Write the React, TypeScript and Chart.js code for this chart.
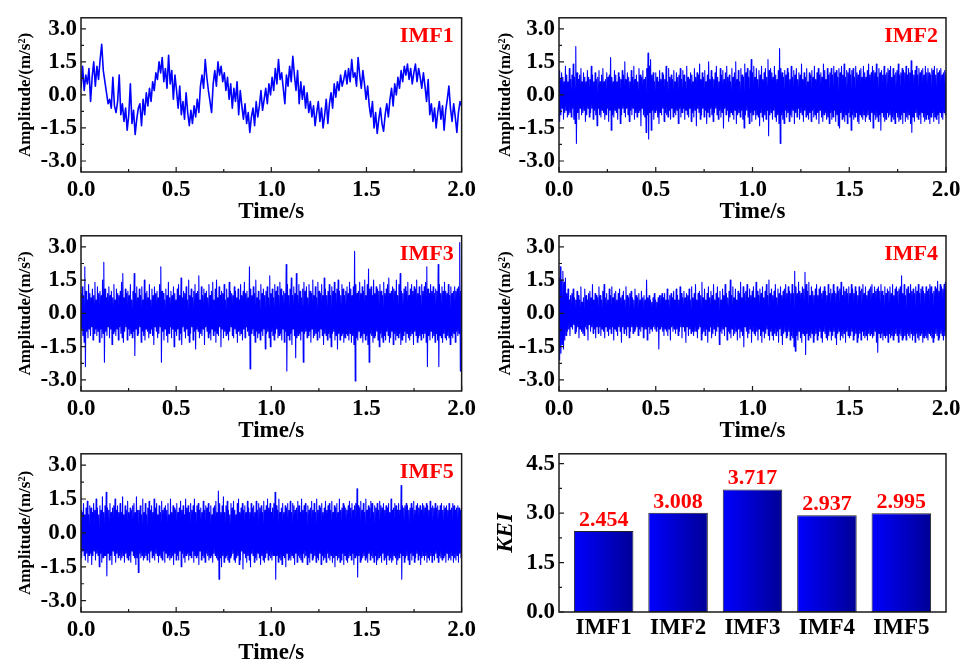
import React, { useEffect, useRef } from 'react';
import { Chart, registerables } from 'chart.js';

Chart.register(...registerables);

// ---------- data ----------
const timeTicks = [0, 0.5, 1.0, 1.5, 2.0];
const timeMinorTicks = [0.25, 0.75, 1.25, 1.75];
const ampTicks = [-3.0, -1.5, 0.0, 1.5, 3.0];
const ampMinorTicks = [-2.25, -0.75, 0.75, 2.25];
const imfNames = ['IMF1', 'IMF2', 'IMF3', 'IMF4', 'IMF5'];
const keiValues = [2.454, 3.008, 3.717, 2.937, 2.995];
const keiTicks = [0, 1.5, 3.0, 4.5];
const keiMinorTicks = [0.75, 2.25, 3.75];

const imf1 = [
  0.3, 1.3, 0.2, 0.9, 0.5, 1.2, -0.3, 0.8, 1.5, 0.4, 1.3, 0.7,
  1.6, 2.3, 1.1, 0.6, 0.1, -0.4, -0.2, -0.6, 0.8, -0.5, -0.8, -0.3,
  0.9, -0.9, -0.4, -1.2, -0.6, -1.6, -0.9, 0.5, -1.3, -0.7, -1.8, -1.1,
  -0.6, -0.4, -1.4, -0.2, -0.9, 0.1, -0.5, 0.3, -0.3, 0.6, 0.2, 1.0,
  0.7, 1.5, 1.0, 1.7, 0.6, 1.2, 0.3, 1.8, 0.5, 1.1, -0.2, 0.9,
  0.2, -0.6, 0.4, -0.9, -0.3, -1.1, 0.1, -0.8, -1.4, -0.7, -1.3, -0.5,
  -1.0, -0.2, -0.8, 0.4, 0.9, 0.3, 1.6, 0.8, 0.2, -0.3, -0.8, 0.5,
  1.1, 0.4, 1.5, 0.9, 1.3, 0.6, 1.0, 0.2, 0.8, -0.2, 0.5, -0.6,
  0.3, -0.3, 0.6, -0.9, 0.2, -0.5, -1.1, -0.4, -1.3, -0.8, -1.7, -1.0,
  -0.6, -1.4, -0.3, -1.0, -0.5, 0.2, -0.7, -0.2, 0.3, -0.4, 0.5, 0.0,
  0.8, 0.2, 1.2, 0.5, 1.6, 0.7, 1.0, 0.3, -0.4, 0.9, 0.4, 1.3,
  0.6, 1.75, 0.9, 0.2, 1.1, -0.4, 0.6, -0.2, 0.4, -0.6, 0.1, -0.8,
  -0.3, -1.0, -0.5, -1.4, -0.8, -0.3, -1.2, -0.6, -1.5, -0.9, -0.2, -1.3,
  -0.4, 0.1, -0.6, 0.5, -0.1, 0.6, 0.2, 0.9, 0.4, 0.7, 1.1, 0.5,
  1.2, 0.6, 1.6, 0.8, 1.0, 0.4, 1.7, 0.9, 0.3, 1.1, 0.5, -0.2,
  0.4, -0.5, -1.0, -0.3, -1.5, -0.8, -1.75, -1.1, -0.6, -1.3, -1.65, -0.9,
  -0.4, -1.0, -0.2, 0.3, -0.5, 0.5, 0.0, 0.8, 0.3, 1.1, 0.6, 1.3,
  0.9, 1.4, 0.7, 1.2, 0.5, 1.0, 1.4, 0.6, 1.2, 0.8, 0.3, 1.0,
  0.4, -0.3, 0.7, -0.9, -0.4, -1.2, -0.6, -1.5, -0.8, -0.3, -1.1, -0.5,
  -1.6, -0.7, -0.2, 0.4, -0.6, -1.2, -0.4, -1.0, -1.7, -0.8, -0.3, -0.5,
];

const imf2 = [
  1.1,-1.2,0.7,-0.9,1.0,-0.6,0.8,-1.1,0.6,-0.8,1.3,-0.7,0.9,-1.0,0.6,-0.9,1.2,-0.8,0.7,-1.0,0.9,-0.6,1.4,-1.1,0.8,-1.3,2.2,-2.2,1.0,-0.8,
  0.7,-1.1,0.9,-0.6,1.2,-0.9,0.6,-0.8,1.0,-0.7,0.8,-1.2,0.6,-0.9,1.1,-0.6,0.8,-1.0,0.7,-0.8,1.3,-0.6,0.9,-1.1,0.6,-0.7,1.0,-0.9,0.7,-1.4,
  0.8,-0.6,1.1,-0.9,0.6,-1.0,0.9,-0.7,1.2,-0.8,0.6,-1.1,0.7,-0.9,1.0,-0.6,0.8,-1.2,0.9,-0.7,1.7,-1.6,0.8,-0.9,0.6,-1.0,1.1,-0.7,0.9,-0.8,
  0.6,-1.1,1.0,-0.6,0.8,-1.3,0.7,-0.9,1.1,-0.6,0.9,-0.8,1.5,-1.0,0.7,-0.6,1.0,-0.9,0.8,-1.2,0.6,-0.7,1.1,-0.9,0.8,-0.6,1.3,-1.1,0.7,-0.8,
  0.9,-1.0,0.6,-0.8,1.2,-0.7,0.9,-1.4,0.8,-0.6,1.1,-0.9,0.7,-1.0,0.8,-1.7,1.2,-0.9,1.9,-2.0,1.3,-0.8,1.6,-1.6,0.9,-0.7,1.0,-1.1,0.6,-0.8,
  1.0,-0.7,0.8,-1.0,0.6,-1.3,1.1,-0.8,0.7,-0.9,1.0,-0.6,0.9,-1.2,0.7,-0.8,1.3,-0.9,0.6,-1.0,1.2,-0.7,0.8,-1.1,0.9,-0.6,0.7,-1.0,1.1,-0.8,
  0.6,-0.9,1.0,-0.7,0.8,-1.3,0.9,-0.6,1.2,-1.0,0.7,-0.8,1.1,-0.6,0.9,-1.1,0.6,-0.7,1.3,-0.9,0.8,-1.0,0.7,-0.6,1.0,-1.2,0.9,-0.8,0.6,-1.0,
  1.2,-0.7,0.8,-1.4,1.0,-0.6,0.9,-0.8,1.4,-1.1,0.7,-0.9,1.0,-0.6,0.8,-1.0,1.1,-0.7,0.6,-1.3,0.9,-0.8,1.5,-1.0,0.7,-0.6,1.1,-0.9,0.8,-1.2,
  0.7,-0.8,1.0,-0.6,1.3,-0.9,0.8,-1.1,0.6,-0.7,1.2,-1.0,0.9,-0.8,1.1,-1.5,0.7,-0.6,1.0,-0.9,1.3,-0.7,0.8,-1.2,0.9,-1.0,0.6,-0.8,1.2,-0.9,
  0.8,-1.1,1.0,-0.7,1.5,-1.3,0.7,-0.9,1.1,-0.8,0.6,-1.0,1.2,-0.7,0.9,-1.1,0.8,-1.5,1.4,-0.9,1.0,-0.7,1.2,-1.0,0.8,-1.3,1.1,-0.8,1.6,-1.2,
  1.0,-0.9,1.3,-0.7,0.8,-1.1,1.2,-0.9,0.7,-1.0,1.1,-1.4,0.9,-0.8,1.3,-1.0,0.7,-1.2,1.0,-0.9,1.2,-1.1,0.8,-0.7,1.6,-1.85,1.1,-0.9,1.2,-0.8,1.0,
  -1.1,0.8,-0.7,1.3,-1.0,0.9,-1.2,0.7,-0.9,1.1,-1.3,2.1,-2.2,1.2,-0.9,1.0,-1.1,0.8,-1.3,1.1,-0.7,0.9,-1.0,1.2,-0.8,1.0,-1.2,0.7,-0.9,1.3,
  -1.0,0.8,-0.7,1.1,-1.3,0.9,-0.8,1.2,-1.0,0.7,-0.6,1.0,-1.1,0.9,-0.8,1.4,-0.9,0.7,-1.2,1.0,-0.7,0.8,-1.0,1.2,-0.9,0.6,-1.1,1.0,-0.8,0.9,
  -1.2,1.1,-0.7,0.8,-1.0,1.3,-0.9,0.7,-1.1,1.0,-0.8,1.2,-1.3,0.9,-0.7,1.0,-1.0,0.8,-1.2,1.4,-0.9,1.1,-0.8,0.7,-1.1,1.2,-1.0,0.9,-1.3,1.0,
  -0.8,1.2,-1.1,0.9,-1.0,1.3,-0.7,1.0,-1.2,1.1,-0.9,0.8,-1.4,1.2,-1.5,1.0,-0.8,1.3,-1.1,0.9,-1.0,1.4,-1.2,0.8,-0.9,1.1,-1.3,1.0,-0.8,1.2,
  -1.0,0.9,-1.6,1.1,-0.9,1.2,-1.1,0.8,-1.0,1.3,-0.8,1.0,-1.2,0.9,-1.3,1.1,-0.9,1.2,-1.0,0.8,-1.1,1.3,-0.9,1.0,-1.2,0.8,-1.0,1.1,-0.9,1.4,
  -1.1,0.9,-1.2,1.0,-0.8,1.3,-1.5,1.1,-0.9,1.0,-1.1,1.4,-1.0,0.8,-1.2,1.2,-0.9,1.0,-1.6,1.1,-0.8,0.9,-1.0,1.3,-1.2,0.9,-1.1,1.0,-0.8,1.2,
  -1.0,1.1,-0.9,1.3,-1.2,0.8,-1.0,1.2,-1.1,0.9,-1.3,1.0,-0.8,1.1,-1.0,1.4,-1.2,0.9,-1.1,1.0,-0.9,1.2,-1.3,1.1,-0.8,1.0,-1.2,1.3,-1.0,0.9,
  -1.1,1.2,-0.9,1.0,-1.3,1.55,-1.7,1.1,-1.0,0.9,-1.2,1.1,-0.8,1.3,-1.0,0.9,-1.1,1.2,-0.9,1.0,-1.3,1.1,-0.8,1.2,-1.0,0.9,-1.2,1.3,-1.1,1.0,
  -0.9,1.2,-1.1,1.0,-1.3,0.9,-1.0,1.2,-0.8,1.1,-1.2,1.3,-1.0,0.9,-1.1,1.2,-0.9,1.0,-1.3,1.1,-0.8,1.2,-1.0,0.9,-1.1,1.0,-0.8,1.1,-0.9,1.0,
];

const imf3 = [
  0.9,-0.7,1.2,-1.0,0.8,-1.3,2.1,-2.4,1.0,-0.8,0.6,-1.1,1.3,-0.7,0.9,-1.0,0.7,-0.6,1.1,-1.2,0.8,-0.9,1.4,-0.7,0.6,-1.0,1.2,-0.8,0.9,-1.3,
  1.0,-0.7,0.8,-1.1,1.5,-0.9,2.3,-2.2,1.1,-0.8,0.7,-1.0,0.9,-0.6,1.2,-1.1,0.8,-0.7,1.0,-1.4,0.7,-0.9,1.3,-0.8,0.6,-1.0,1.1,-0.7,0.9,-1.2,
  0.8,-0.6,1.0,-0.9,1.4,-1.1,1.8,-1.3,0.7,-0.8,1.1,-0.6,0.9,-1.2,1.0,-0.7,0.8,-1.0,1.3,-0.9,0.6,-1.1,1.0,-0.8,1.8,-1.9,0.9,-0.7,1.2,-1.0,
  0.7,-0.9,1.1,-0.6,0.8,-1.3,1.2,-0.8,0.6,-1.0,1.5,-1.2,0.9,-0.7,1.0,-0.8,0.7,-1.1,1.3,-0.9,0.6,-0.7,1.1,-1.0,0.8,-1.4,1.2,-0.6,0.9,-0.8,
  1.0,-1.1,0.7,-0.9,1.3,-0.6,2.1,-2.2,1.0,-0.8,0.9,-1.2,0.6,-0.7,1.1,-1.0,0.8,-1.3,1.4,-0.9,0.7,-0.6,1.0,-1.1,0.8,-0.7,1.2,-1.5,0.9,-0.8,
  0.6,-1.0,1.1,-0.7,1.3,-1.2,0.8,-0.9,1.6,-1.4,0.7,-0.6,1.0,-0.8,0.9,-1.1,1.2,-0.7,0.6,-1.0,1.5,-1.3,0.8,-0.9,1.1,-0.6,0.7,-1.2,1.0,-0.8,
  1.3,-1.6,0.9,-0.7,1.0,-0.8,1.7,-1.1,0.6,-0.9,1.2,-1.0,0.8,-0.7,1.1,-1.4,0.9,-0.6,1.0,-0.8,0.7,-1.1,1.3,-0.9,0.8,-1.2,1.0,-0.7,1.4,-1.0,
  0.6,-0.8,1.1,-1.3,1.5,-0.9,0.7,-1.0,1.2,-0.6,0.8,-1.5,1.0,-0.7,0.9,-1.1,1.3,-0.8,0.6,-1.0,1.1,-0.9,0.7,-1.2,1.4,-0.8,1.0,-0.6,0.9,-1.0,
  0.8,-1.1,1.2,-0.7,1.0,-0.9,0.7,-1.3,1.1,-0.8,0.6,-1.0,1.3,-0.9,0.8,-1.2,1.0,-0.7,1.4,-1.1,0.9,-0.6,1.0,-0.8,0.7,-1.0,2.1,-2.5,1.1,-0.9,
  0.8,-0.7,1.2,-1.0,0.9,-1.3,1.5,-0.8,0.7,-1.1,1.0,-0.9,0.6,-1.2,1.3,-0.8,0.9,-1.0,1.1,-0.7,0.8,-1.6,1.0,-0.9,1.2,-0.8,0.7,-1.1,1.7,-1.5,
  0.9,-0.8,1.1,-1.0,0.7,-1.2,1.3,-0.9,1.0,-0.7,1.2,-1.1,0.8,-1.0,1.4,-0.9,1.1,-1.2,0.8,-0.7,1.0,-1.3,0.9,-0.8,2.2,-2.6,1.3,-1.0,0.8,-1.2,1.1,
  -0.9,1.6,-1.4,0.8,-0.7,1.2,-1.0,0.9,-2.0,1.8,-1.1,0.8,-1.0,1.3,-0.9,1.0,-1.2,0.7,-0.8,1.1,-2.2,1.4,-0.9,1.0,-0.8,1.2,-1.1,0.7,-1.0,1.3,
  -0.8,1.0,-1.3,0.9,-0.7,1.5,-1.1,0.8,-1.0,1.2,-0.9,0.7,-1.2,1.4,-0.8,1.0,-1.1,0.9,-0.7,1.3,-1.0,0.8,-1.4,1.6,-0.9,1.1,-1.0,0.8,-1.2,1.0,
  -0.9,1.3,-1.1,0.8,-1.5,1.2,-0.9,1.0,-0.8,1.4,-1.2,0.9,-1.0,1.1,-1.6,1.5,-0.9,1.0,-1.2,0.8,-1.0,1.3,-0.9,1.1,-1.3,0.8,-1.1,1.0,-0.9,1.2,
  -1.0,0.9,-1.2,1.4,-0.9,1.1,-1.3,0.8,-1.0,1.2,-1.4,2.8,-3.05,1.3,-1.1,0.9,-1.2,1.0,-0.8,1.4,-1.1,0.9,-1.0,1.2,-1.3,1.0,-0.9,1.5,-1.2,0.8,
  -1.0,1.3,-1.4,2.0,-2.2,1.1,-0.9,1.2,-1.0,0.8,-1.3,1.5,-1.1,0.9,-1.0,1.2,-0.8,1.1,-1.2,1.0,-1.5,1.3,-0.9,1.0,-1.1,0.8,-1.3,1.4,-1.0,0.9,
  -1.2,1.1,-0.8,1.3,-1.0,1.6,-1.3,0.9,-1.1,1.0,-0.8,1.2,-1.4,1.1,-0.9,1.0,-1.2,1.5,-1.0,0.8,-1.1,1.3,-0.9,1.8,-1.4,1.0,-1.2,0.9,-1.0,1.1,
  -0.8,1.2,-1.3,1.0,-0.9,1.4,-1.1,0.8,-1.2,1.1,-1.0,1.3,-0.9,1.0,-1.4,1.2,-0.8,1.1,-1.0,1.5,-1.3,0.9,-1.1,1.2,-1.0,0.8,-1.2,1.3,-0.9,1.0,
  -1.1,1.2,-0.9,1.4,-1.3,2.1,-2.4,1.1,-1.0,0.9,-1.2,1.3,-0.8,1.0,-1.1,1.2,-1.0,0.9,-1.3,1.1,-0.9,1.0,-1.2,2.2,-2.4,1.3,-1.0,0.9,-1.1,1.2,
  -1.3,1.0,-0.9,1.4,-1.1,1.0,-1.2,0.9,-1.0,1.3,-1.1,0.8,-1.4,1.2,-1.0,0.9,-1.1,1.0,-0.9,1.2,-1.3,1.0,-0.8,1.1,-1.0,1.2,-0.9,3.2,-2.6,1.0,-0.8,
];

const imf4 = [
  1.6,-2.1,2.1,-1.8,1.5,-1.4,1.9,-1.6,1.4,-1.2,1.6,-1.0,0.9,-0.8,1.1,-0.7,0.6,-1.0,0.8,-0.6,0.9,-0.7,1.1,-0.5,0.7,-0.9,0.6,-0.8,1.0,-0.6,
  0.8,-1.1,0.6,-0.7,1.2,-0.8,0.5,-0.9,0.7,-1.0,1.1,-0.6,0.8,-0.7,0.6,-1.2,0.9,-0.5,1.0,-0.8,0.7,-0.6,1.3,-0.9,0.6,-0.7,0.9,-1.1,0.8,-0.6,
  0.7,-0.9,1.2,-0.6,0.8,-1.0,0.6,-0.7,1.0,-0.8,1.3,-1.1,0.7,-0.6,0.9,-0.8,0.6,-1.0,1.1,-0.7,0.8,-0.9,1.2,-0.6,0.7,-1.2,0.9,-0.7,1.0,-0.8,
  0.6,-1.0,0.9,-0.6,1.1,-0.8,0.7,-1.3,0.8,-0.6,1.0,-0.9,0.6,-0.7,1.2,-1.0,0.8,-0.6,0.7,-1.1,0.9,-0.8,1.0,-0.6,0.7,-0.9,0.6,-0.8,1.1,-0.7,
  0.8,-0.6,0.7,-1.0,0.9,-0.7,0.6,-0.8,1.0,-0.6,0.7,-1.1,0.8,-0.7,0.6,-0.7,1.5,-1.2,0.7,-0.6,0.8,-0.9,0.6,-0.7,0.5,-0.8,0.7,-0.6,0.9,-0.7,0.6,
  -0.8,0.5,-0.6,0.7,-1.6,0.8,-0.7,0.8,-0.6,0.9,-0.8,0.7,-1.0,0.9,-0.7,0.6,-0.8,1.1,-1.0,0.6,-0.7,0.8,-1.2,0.9,-0.6,0.7,-0.8,1.0,-0.7,0.6,
  -0.9,1.1,-0.7,0.8,-1.0,0.6,-0.8,1.2,-0.6,0.9,-1.1,0.7,-0.6,1.0,-0.8,0.7,-1.3,0.9,-0.6,0.8,-1.0,1.1,-0.7,0.6,-0.9,1.2,-0.8,0.7,-1.0,0.9,
  -0.8,1.3,-0.8,0.6,-1.1,0.9,-0.7,1.0,-0.6,0.8,-1.2,1.4,-0.9,0.7,-0.8,1.1,-1.0,0.6,-0.7,0.9,-1.3,1.2,-0.8,0.7,-0.6,1.0,-1.1,0.8,-0.9,1.3,-0.7,
  0.6,-1.0,0.9,-0.8,1.2,-0.6,0.7,-1.4,1.0,-0.8,0.6,-0.9,1.1,-0.7,0.8,-1.0,1.3,-0.6,0.9,-1.2,0.7,-0.8,1.0,-0.9,1.5,-1.1,0.8,-0.7,1.2,-1.0,
  0.7,-0.9,1.1,-0.8,0.6,-1.2,1.0,-0.7,0.9,-1.1,1.4,-0.8,0.7,-1.0,1.2,-1.5,0.9,-0.6,1.0,-0.8,1.3,-1.1,0.7,-0.9,1.1,-0.7,0.8,-1.3,1.0,-0.8,
  1.2,-0.9,0.7,-1.0,1.4,-0.8,1.0,-1.2,0.8,-0.7,1.1,-1.0,0.9,-1.3,1.2,-0.8,0.7,-1.1,1.0,-0.9,1.3,-0.7,0.8,-1.0,1.5,-1.2,0.9,-0.8,1.1,-1.0,
  0.8,-1.2,1.0,-0.9,1.3,-1.0,0.7,-0.8,1.1,-1.3,0.9,-0.7,1.2,-1.0,0.8,-1.4,1.0,-0.9,1.1,-0.8,1.3,-1.1,0.9,-1.0,1.2,-0.8,1.0,-1.2,0.9,-1.0,
  1.3,-1.1,0.9,-1.5,1.9,-1.7,1.2,-1.0,0.9,-1.2,1.4,-0.8,1.0,-1.1,0.9,-1.3,1.2,-0.9,1.1,-1.0,1.85,-1.85,1.3,-0.9,1.0,-1.2,1.4,-1.0,0.8,-1.1,
  1.2,-0.9,1.0,-1.3,0.8,-1.0,1.1,-0.9,1.3,-1.2,0.8,-1.0,1.1,-0.8,1.2,-1.1,0.9,-1.3,1.0,-0.8,1.2,-0.9,1.0,-1.1,0.8,-1.2,1.3,-1.0,0.9,-0.8,
  1.1,-1.2,0.9,-1.0,1.3,-0.8,1.0,-1.1,0.9,-1.4,1.2,-0.9,1.0,-0.8,1.1,-1.2,1.4,-1.0,0.8,-1.1,1.2,-0.9,1.0,-1.3,1.1,-0.8,0.9,-1.0,1.2,-1.1,
  0.9,-1.0,1.3,-0.8,1.1,-1.2,0.9,-1.0,1.2,-0.9,1.0,-1.3,0.8,-1.1,1.2,-0.9,1.0,-1.2,1.1,-0.8,1.3,-1.0,0.9,-1.1,1.2,-1.0,0.8,-1.2,1.0,-0.9,
  1.1,-1.0,1.2,-0.9,1.3,-1.1,0.9,-1.0,1.2,-0.8,1.0,-1.3,1.1,-1.75,1.2,-0.9,1.0,-1.1,1.3,-0.9,1.0,-1.2,0.8,-1.0,1.2,-1.1,0.9,-1.0,1.1,-1.3,
  1.0,-0.9,1.2,-1.1,0.9,-1.0,1.3,-1.2,0.8,-1.0,1.1,-0.9,1.2,-1.0,1.0,-1.3,1.1,-0.9,1.2,-1.0,1.7,-1.2,0.9,-1.1,1.3,-1.0,0.8,-1.2,1.1,-0.9,
  1.2,-1.0,0.9,-1.1,1.3,-0.9,1.0,-1.2,1.1,-1.0,0.9,-1.3,1.2,-0.9,1.0,-1.1,1.3,-1.2,0.9,-1.0,1.1,-0.9,1.2,-1.3,1.0,-1.1,0.9,-1.0,1.2,-1.1,
  1.0,-1.2,1.1,-0.9,1.3,-1.0,1.2,-1.1,0.9,-1.3,1.0,-1.1,1.2,-0.9,1.1,-1.0,1.45,-1.2,1.0,-1.1,1.3,-0.9,1.2,-1.0,1.1,-1.2,1.3,-1.0,1.4,-1.1,
];

const imf5 = [
  1.0,-1.1,0.9,-0.8,1.3,-1.0,0.8,-1.2,1.1,-0.9,1.4,-1.3,0.8,-1.0,1.2,-0.9,1.1,-1.4,0.9,-1.0,1.3,-0.8,1.0,-1.2,1.5,-0.9,1.1,-1.0,0.8,-1.5,
  1.2,-0.9,1.0,-1.3,1.6,-1.1,0.9,-1.0,1.2,-1.0,1.8,-1.9,1.1,-0.9,1.0,-1.2,1.3,-1.0,0.9,-1.4,1.1,-0.8,1.2,-1.0,1.5,-1.3,1.0,-0.9,1.2,-1.1,0.9,
  -1.0,1.3,-1.2,0.9,-1.1,1.6,-1.0,0.8,-1.3,1.2,-0.9,1.0,-1.1,1.4,-1.2,0.9,-1.0,1.1,-1.3,1.0,-0.8,1.2,-1.0,1.3,-1.1,0.9,-1.4,1.6,-1.1,1.0,-1.75,
  1.0,-0.9,1.2,-1.1,0.8,-1.0,1.5,-1.2,0.9,-1.1,1.3,-1.0,0.8,-1.2,1.1,-0.9,1.4,-1.3,1.0,-0.8,1.2,-1.1,0.9,-1.0,1.5,-1.2,1.1,-0.9,1.3,-1.0,
  0.8,-1.3,1.2,-1.0,0.9,-1.1,1.4,-1.2,1.0,-0.8,1.1,-1.3,1.2,-0.9,1.0,-1.1,1.3,-1.0,0.8,-1.2,1.5,-1.1,0.9,-1.0,1.2,-1.4,1.1,-0.9,1.0,-1.2,
  1.3,-1.0,0.9,-1.2,1.1,-0.8,1.4,-1.5,1.0,-0.9,1.2,-1.1,0.8,-1.3,1.5,-1.0,1.1,-0.9,1.2,-1.2,0.9,-1.0,1.3,-1.1,1.0,-0.8,1.2,-1.3,1.5,-1.0,
  0.9,-1.1,1.2,-1.0,1.3,-1.4,1.0,-0.8,1.1,-1.2,0.9,-1.0,1.4,-1.1,1.0,-1.3,1.2,-0.9,1.1,-1.0,1.3,-1.2,0.9,-1.1,1.2,-1.0,0.8,-1.3,1.1,-0.9,
  1.2,-1.0,1.4,-1.1,0.9,-1.2,1.85,-2.05,1.3,-1.1,0.9,-1.5,1.2,-1.0,1.6,-1.3,0.9,-1.1,1.2,-1.0,1.4,-1.2,1.0,-1.3,0.8,-1.1,1.3,-1.0,1.1,-0.9,
  1.4,-1.2,1.0,-1.3,0.8,-1.1,1.3,-1.0,1.5,-1.4,0.9,-1.2,1.1,-0.8,1.3,-1.6,1.0,-0.9,1.2,-1.1,0.9,-1.3,1.4,-1.0,1.1,-1.2,0.9,-1.5,1.3,-0.9,
  1.1,-1.0,1.2,-1.3,0.9,-1.1,1.4,-1.2,1.0,-0.9,1.3,-1.1,1.1,-1.4,1.2,-1.0,0.9,-1.2,1.4,-1.3,1.0,-1.1,1.2,-0.9,1.5,-1.2,1.1,-1.0,1.3,-1.1,
  0.9,-1.2,1.1,-1.0,1.3,-1.0,1.8,-2.05,1.2,-1.0,1.0,-1.3,1.5,-1.1,0.9,-1.2,1.1,-1.4,1.3,-1.0,0.9,-1.1,1.2,-1.5,1.1,-0.9,1.3,-1.2,1.0,-1.1,1.4,
  -1.2,0.9,-1.0,1.3,-1.1,1.2,-1.4,1.0,-0.9,1.1,-1.3,1.4,-1.0,1.2,-1.1,0.9,-1.2,1.5,-1.3,1.0,-0.9,1.2,-1.1,1.3,-1.0,0.9,-1.4,1.2,-1.1,1.0,
  -1.3,1.1,-0.9,1.4,-1.2,1.0,-1.1,1.3,-1.0,0.9,-1.3,1.5,-1.1,1.0,-1.2,1.2,-0.9,1.1,-1.4,1.3,-1.0,0.9,-1.2,1.1,-1.1,1.4,-1.3,1.0,-0.9,1.2,
  -1.1,1.3,-1.2,1.0,-1.0,1.4,-1.3,0.9,-1.1,1.2,-1.5,1.1,-1.0,1.3,-1.2,0.9,-1.1,1.5,-1.3,1.0,-1.2,1.1,-0.9,1.3,-1.4,1.2,-1.0,1.1,-1.2,1.0,
  -1.3,1.2,-1.1,1.4,-1.0,1.1,-1.2,1.3,-0.9,1.0,-1.4,1.2,-1.1,1.3,-1.0,1.95,-1.95,1.2,-1.0,1.1,-1.3,1.4,-1.2,1.0,-1.1,1.3,-1.0,0.9,-1.2,1.5,-1.1,
  1.0,-1.3,1.2,-0.9,1.1,-1.2,1.4,-1.0,1.3,-1.1,0.9,-1.3,1.2,-1.0,1.1,-1.4,1.3,-1.2,1.0,-1.1,1.4,-1.0,1.2,-1.3,1.1,-0.9,1.3,-1.2,1.0,-1.1,
  1.2,-1.4,1.1,-1.0,1.3,-1.2,0.9,-1.1,1.5,-1.3,1.0,-1.2,1.1,-1.0,1.3,-1.1,1.2,-1.4,1.0,-1.2,1.3,-1.1,1.0,-0.9,2.1,-2.05,1.2,-1.0,1.1,-1.3,1.2,
  -1.1,1.3,-1.0,1.2,-1.2,1.0,-1.4,1.1,-0.9,1.3,-1.2,1.1,-1.0,1.4,-1.3,1.0,-1.1,1.2,-0.9,1.3,-1.2,1.1,-1.0,1.2,-1.4,1.0,-1.1,1.3,-1.0,1.2,
  -1.2,1.1,-1.0,1.3,-1.3,1.2,-1.1,1.0,-1.2,1.4,-1.0,1.1,-1.3,1.2,-1.0,1.1,-1.2,1.3,-0.9,1.1,-1.1,1.2,-1.3,1.0,-1.0,1.2,-1.1,1.3,-1.2,1.0,
  -1.1,1.2,-1.0,1.1,-1.3,1.2,-0.9,1.0,-1.2,1.3,-1.1,1.0,-1.2,1.1,-1.0,1.3,-1.3,1.2,-1.1,1.0,-1.2,1.1,-1.0,1.2,-1.3,1.1,-0.9,1.0,-1.1,1.0,
];

const signals = [imf1, imf2, imf3, imf4, imf5];
const signalWidths = [1.6, 1.1, 1.1, 1.1, 1.1];

// ---------- styling ----------
const FONT = "'Liberation Serif', 'Times New Roman', serif";
const BLACK = '#000000';

const framePlugin = {
  id: 'frame',
  afterDraw(chart: any, _args: any, opts: any) {
    const { ctx, chartArea: a } = chart;
    const xs = chart.scales.x;
    const ys = chart.scales.y;
    ctx.save();
    ctx.strokeStyle = '#1a1a1a';
    ctx.lineWidth = 1.5;
    ctx.strokeRect(a.left, a.top, a.right - a.left, a.bottom - a.top);
    ctx.lineWidth = 1.2;
    ctx.beginPath();
    const xt = (vals: number[], len: number) =>
      vals.forEach((v) => {
        const p = xs.getPixelForValue(v);
        ctx.moveTo(p, a.bottom);
        ctx.lineTo(p, a.bottom - len);
      });
    const yt = (vals: number[], len: number) =>
      vals.forEach((v) => {
        const p = ys.getPixelForValue(v);
        ctx.moveTo(a.left, p);
        ctx.lineTo(a.left + len, p);
      });
    if (opts.xMajor) xt(opts.xMajor, 5);
    if (opts.xMinor) xt(opts.xMinor, 3);
    if (opts.yMajor) yt(opts.yMajor, 5);
    if (opts.yMinor) yt(opts.yMinor, 3);
    ctx.stroke();
    if (opts.label) {
      ctx.fillStyle = '#ff0000';
      ctx.font = `bold 22px ${FONT}`;
      ctx.textAlign = 'right';
      ctx.textBaseline = 'alphabetic';
      ctx.fillText(opts.label, a.right - 8, a.top + 24);
    }
    ctx.restore();
  },
};

const barLabelPlugin = {
  id: 'barLabels',
  afterDatasetsDraw(chart: any) {
    const { ctx } = chart;
    const meta = chart.getDatasetMeta(0);
    ctx.save();
    ctx.fillStyle = '#ff0000';
    ctx.font = `bold 22px ${FONT}`;
    ctx.textAlign = 'center';
    ctx.textBaseline = 'alphabetic';
    meta.data.forEach((el: any, i: number) => {
      ctx.fillText(keiValues[i].toFixed(3), el.x, el.y - 5);
    });
    ctx.restore();
  },
};

type Geom = { padTop: number; padRight: number; yWidth: number; xHeight: number };

function signalConfig(series: number[], width: number, label: string, g: Geom): any {
  const n = series.length;
  return {
    type: 'line',
    data: {
      datasets: [
        {
          data: series.map((y, i) => ({ x: (i * 2) / (n - 1), y })),
          borderColor: '#0000ff',
          borderWidth: width,
          borderJoinStyle: 'round',
          pointRadius: 0,
          tension: 0,
          fill: false,
        },
      ],
    },
    options: {
      animation: false,
      responsive: false,
      events: [],
      layout: { padding: { left: 0, top: g.padTop, right: g.padRight, bottom: 0 }, autoPadding: false },
      plugins: {
        legend: { display: false },
        tooltip: { enabled: false },
        frame: { xMajor: timeTicks, xMinor: timeMinorTicks, yMajor: ampTicks, yMinor: ampMinorTicks, label },
      },
      scales: {
        x: {
          type: 'linear',
          min: 0,
          max: 2,
          afterBuildTicks: (s: any) => {
            s.ticks = timeTicks.map((v) => ({ value: v }));
          },
          afterFit: (s: any) => {
            s.height = g.xHeight;
          },
          grid: { display: false, drawTicks: false },
          border: { display: false },
          ticks: {
            padding: 4,
            color: BLACK,
            maxRotation: 0,
            autoSkip: false,
            font: { family: FONT, size: 23, weight: 'bold' },
            callback: (v: any) => Number(v).toFixed(1),
          },
          title: {
            display: true,
            text: 'Time/s',
            color: BLACK,
            font: { family: FONT, size: 23, weight: 'bold' },
            padding: { top: 0, bottom: 0 },
          },
        },
        y: {
          type: 'linear',
          min: -3.5,
          max: 3.5,
          afterBuildTicks: (s: any) => {
            s.ticks = ampTicks.map((v) => ({ value: v }));
          },
          afterFit: (s: any) => {
            s.width = g.yWidth;
          },
          grid: { display: false, drawTicks: false },
          border: { display: false },
          ticks: {
            padding: 4,
            color: BLACK,
            autoSkip: false,
            font: { family: FONT, size: 23, weight: 'bold' },
            callback: (v: any) => Number(v).toFixed(1),
          },
          title: {
            display: true,
            text: 'Amplitude/(m/s\u00B2)',
            color: BLACK,
            font: { family: FONT, size: 17, weight: 'bold' },
            padding: { top: 15, bottom: 0 },
          },
        },
      },
    },
    plugins: [framePlugin],
  };
}

function barConfig(g: Geom): any {
  return {
    type: 'bar',
    data: {
      datasets: [
        {
          data: keiValues.map((v, i) => ({ x: i + 1, y: v })),
          categoryPercentage: 1,
          barPercentage: 0.8,
          borderColor: '#222222',
          borderWidth: 1,
          borderSkipped: false,
          backgroundColor: (c: any) => {
            const chart = c.chart;
            const xs = chart.scales && chart.scales.x;
            if (!xs || c.dataIndex === undefined || !chart.chartArea) return '#0000dd';
            const w = Math.abs(xs.getPixelForValue(2) - xs.getPixelForValue(1)) * 0.8;
            const cx = xs.getPixelForValue(c.dataIndex + 1);
            const grad = chart.ctx.createLinearGradient(cx - w / 2, 0, cx + w / 2, 0);
            grad.addColorStop(0, '#0000ff');
            grad.addColorStop(1, '#000096');
            return grad;
          },
        },
      ],
    },
    options: {
      animation: false,
      responsive: false,
      events: [],
      layout: { padding: { left: 0, top: g.padTop, right: g.padRight, bottom: 0 }, autoPadding: false },
      plugins: {
        legend: { display: false },
        tooltip: { enabled: false },
        frame: { yMajor: keiTicks, yMinor: keiMinorTicks },
      },
      scales: {
        x: {
          type: 'linear',
          min: 0.4,
          max: 5.6,
          offset: false,
          afterBuildTicks: (s: any) => {
            s.ticks = imfNames.map((_, i) => ({ value: i + 1 }));
          },
          afterFit: (s: any) => {
            s.height = g.xHeight;
          },
          grid: { display: false, drawTicks: false },
          border: { display: false },
          ticks: {
            padding: 2,
            color: BLACK,
            maxRotation: 0,
            autoSkip: false,
            font: { family: FONT, size: 23, weight: 'bold' },
            callback: (v: any) => imfNames[Math.round(Number(v)) - 1],
          },
        },
        y: {
          type: 'linear',
          min: 0,
          max: 4.8,
          afterBuildTicks: (s: any) => {
            s.ticks = keiTicks.map((v) => ({ value: v }));
          },
          afterFit: (s: any) => {
            s.width = g.yWidth;
          },
          grid: { display: false, drawTicks: false },
          border: { display: false },
          ticks: {
            padding: 4,
            color: BLACK,
            autoSkip: false,
            font: { family: FONT, size: 23, weight: 'bold' },
            callback: (v: any) => Number(v).toFixed(1),
          },
          title: {
            display: true,
            text: 'KEI',
            color: BLACK,
            font: { family: FONT, size: 23, weight: 'bold', style: 'italic' },
            padding: { top: 12, bottom: 0 },
          },
        },
      },
    },
    plugins: [framePlugin, barLabelPlugin],
  };
}

type PanelProps = { left: number; top: number; width: number; height: number; config: () => any };

function Panel({ left, top, width, height, config }: PanelProps) {
  const ref = useRef<HTMLCanvasElement | null>(null);
  useEffect(() => {
    if (!ref.current) return;
    const chart = new Chart(ref.current, config());
    return () => chart.destroy();
  }, []);
  return (
    <canvas
      ref={ref}
      width={width}
      height={height}
      style={{ position: 'absolute', left, top, width, height, display: 'block' }}
    />
  );
}

const LEFT = { x: 0, w: 480, yWidth: 81, padRight: 13 };
const RIGHT = { x: 480, w: 493, yWidth: 79, padRight: 27 };
const ROWS = [
  { y: 0, h: 226, padTop: 8, xHeight: 54 },
  { y: 218, h: 227, padTop: 10, xHeight: 54 },
  { y: 436, h: 231, padTop: 12, xHeight: 55 },
];

export default function App() {
  const panels: PanelProps[] = [];
  for (let k = 0; k < 5; k++) {
    const col = k % 2 === 0 ? LEFT : RIGHT;
    const row = ROWS[Math.floor(k / 2)];
    panels.push({
      left: col.x,
      top: row.y,
      width: col.w,
      height: row.h,
      config: () =>
        signalConfig(signals[k], signalWidths[k], imfNames[k], {
          padTop: row.padTop,
          padRight: col.padRight,
          yWidth: col.yWidth,
          xHeight: row.xHeight,
        }),
    });
  }
  panels.push({
    left: RIGHT.x,
    top: ROWS[2].y,
    width: RIGHT.w,
    height: ROWS[2].h,
    config: () => barConfig({ padTop: 11, padRight: RIGHT.padRight, yWidth: RIGHT.yWidth, xHeight: 55 }),
  });
  return (
    <div style={{ position: 'absolute', left: 0, top: 0, width: 973, height: 667, background: '#ffffff', overflow: 'hidden' }}>
      {panels.map((p, i) => (
        <Panel key={i} {...p} />
      ))}
    </div>
  );
}
